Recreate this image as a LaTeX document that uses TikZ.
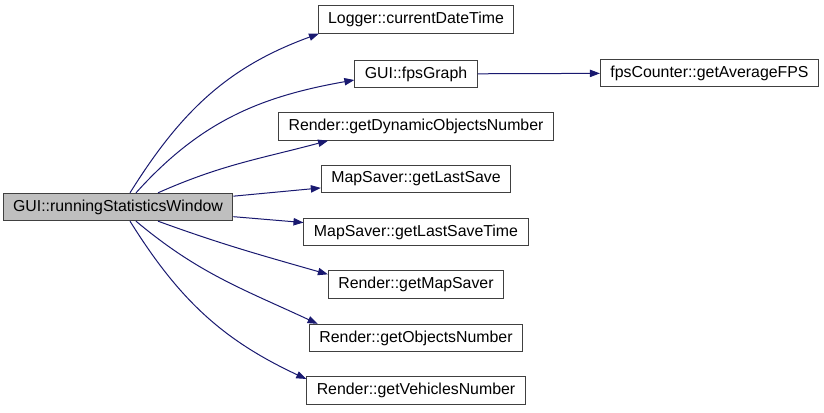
\documentclass[tikz,border=0pt]{standalone}
\usepackage{fontspec}
\setmainfont{Liberation Sans}
\usetikzlibrary{arrows.meta,positioning}
\definecolor{edgeblue}{HTML}{191970}
\definecolor{boxgray}{HTML}{BFBFBF}
\definecolor{boxline}{HTML}{404040}
\tikzset{
  >={Triangle[length=7.5pt,width=5.5pt]},
  fn/.style={rectangle, draw=boxline, line width=0.75pt, fill=white, inner xsep=7.5pt,
    minimum height=20.5pt, font=\fontsize{11.9}{13}\selectfont},
  root/.style={fn, fill=boxgray},
  call/.style={->, draw=edgeblue, line width=0.75pt}
}
\begin{document}
\begin{tikzpicture}[x=0.75pt, y=-0.75pt]
  \useasboundingbox (0,0) rectangle (824,413);

  \node[root] (main) at (118,207) {GUI::runningStatisticsWindow};
  \node[fn] (logger) at (416,19.5) {Logger::currentDateTime};
  \node[fn] (fps) at (416,74) {GUI::fpsGraph};
  \node[fn] (avgfps) at (709.5,73) {fpsCounter::getAverageFPS};
  \node[fn] (dynobj) at (416,126.5) {Render::getDynamicObjectsNumber};
  \node[fn] (lastsave) at (416,179) {MapSaver::getLastSave};
  \node[fn] (lastsavetime) at (416,232) {MapSaver::getLastSaveTime};
  \node[fn] (mapsaver) at (416,284.5) {Render::getMapSaver};
  \node[fn] (objects) at (416,338) {Render::getObjectsNumber};
  \node[fn] (vehicles) at (416,390.5) {Render::getVehiclesNumber};

  \draw[call] ([xshift=9pt]main.north) to[out=58, in=200] ([xshift=1pt]logger.south west);
  \draw[call] ([xshift=13.5pt]main.north) to[out=48, in=190] ([yshift=-4.5pt]fps.west);
  \draw[call] ([xshift=30pt]main.north) to[out=24, in=195] ([xshift=37.5pt]dynobj.south west);
  \draw[call] (main) -- (lastsave);
  \draw[call] (main) -- (lastsavetime);
  \draw[call] ([xshift=30pt]main.south) to[out=-20, in=164] ([yshift=-3pt]mapsaver.north west);
  \draw[call] ([xshift=13.5pt]main.south) to[out=-40, in=155] ([xshift=6.5pt]objects.north west);
  \draw[call] ([xshift=9pt]main.south) to[out=-58, in=155] ([yshift=-2pt]vehicles.north west);
  \draw[call] (fps) -- (avgfps);
\end{tikzpicture}
\end{document}
